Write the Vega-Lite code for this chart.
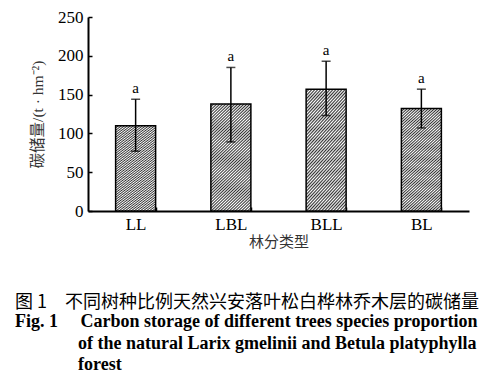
{
  "$schema": "https://vega.github.io/schema/vega-lite/v6.json",
  "width": 381,
  "height": 194,
  "autosize": "none",
  "padding": {"left": 88, "top": 17, "right": 31, "bottom": 169},
  "background": "white",
  "config": {"view": {"stroke": null}, "font": "Liberation Serif"},
  "resolve": {"scale": {"y": "shared"}, "axis": {"y": "independent"}},
  "title": {
    "text": "图 1\u3000不同树种比例天然兴安落叶松白桦林乔木层的碳储量",
    "subtitle": [
      "Fig. 1\u00a0\u00a0\u00a0\u00a0\u00a0Carbon storage of different trees species proportion",
      "\u200b\u00a0\u00a0\u00a0\u00a0\u00a0\u00a0\u00a0\u00a0\u00a0\u00a0\u00a0\u00a0\u00a0\u00a0of the natural Larix gmelinii and Betula platyphylla",
      "\u200b\u00a0\u00a0\u00a0\u00a0\u00a0\u00a0\u00a0\u00a0\u00a0\u00a0\u00a0\u00a0\u00a0\u00a0forest"
    ],
    "orient": "bottom",
    "anchor": "start",
    "frame": "group",
    "dx": -73,
    "offset": 45,
    "font": "Noto Sans CJK SC",
    "fontSize": 18,
    "fontWeight": "normal",
    "color": "black",
    "subtitleFont": "Liberation Serif",
    "subtitleFontSize": 18,
    "subtitleFontWeight": "bold",
    "subtitleColor": "black",
    "subtitleLineHeight": 21.5,
    "subtitlePadding": 1
  },
  "data": {
    "values": [
      {"type": "LL", "mean": 110, "lo": 77, "hi": 144, "sig": "a"},
      {"type": "LBL", "mean": 138, "lo": 89, "hi": 185, "sig": "a"},
      {"type": "BLL", "mean": 157, "lo": 123, "hi": 193, "sig": "a"},
      {"type": "BL", "mean": 132, "lo": 107, "hi": 157, "sig": "a"}
    ]
  },
  "encoding": {
    "x": {
      "field": "type",
      "type": "nominal",
      "sort": null,
      "scale": {"paddingInner": 0.58, "paddingOuter": 0.29},
      "axis": {
        "title": "林分类型",
        "titleFont": "Noto Sans CJK SC",
        "titleFontSize": 15,
        "titleFontWeight": "normal",
        "titleColor": "#333",
        "titlePadding": 2,
        "labelAngle": 0,
        "labelFont": "Liberation Serif",
        "labelFontSize": 17,
        "labelColor": "black",
        "labelPadding": 9,
        "domainColor": "black",
        "domainWidth": 2,
        "tickColor": "black",
        "tickWidth": 1.5,
        "tickSize": -4,
        "tickBand": "extent"
      }
    }
  },
  "layer": [
    {
      "mark": {
        "type": "bar",
        "stroke": "black",
        "strokeWidth": 1.5,
        "fill": {
          "gradient": "linear",
          "x1": 0, "y1": 0, "x2": 0.43, "y2": 1.2,
          "stops": [
            {"offset": 0, "color": "#333"}, {"offset": 0.01, "color": "#fff"},
            {"offset": 0.02, "color": "#333"}, {"offset": 0.03, "color": "#fff"},
            {"offset": 0.04, "color": "#333"}, {"offset": 0.05, "color": "#fff"},
            {"offset": 0.06, "color": "#333"}, {"offset": 0.07, "color": "#fff"},
            {"offset": 0.08, "color": "#333"}, {"offset": 0.09, "color": "#fff"},
            {"offset": 0.1, "color": "#333"}, {"offset": 0.11, "color": "#fff"},
            {"offset": 0.12, "color": "#333"}, {"offset": 0.13, "color": "#fff"},
            {"offset": 0.14, "color": "#333"}, {"offset": 0.15, "color": "#fff"},
            {"offset": 0.16, "color": "#333"}, {"offset": 0.17, "color": "#fff"},
            {"offset": 0.18, "color": "#333"}, {"offset": 0.19, "color": "#fff"},
            {"offset": 0.2, "color": "#333"}, {"offset": 0.21, "color": "#fff"},
            {"offset": 0.22, "color": "#333"}, {"offset": 0.23, "color": "#fff"},
            {"offset": 0.24, "color": "#333"}, {"offset": 0.25, "color": "#fff"},
            {"offset": 0.26, "color": "#333"}, {"offset": 0.27, "color": "#fff"},
            {"offset": 0.28, "color": "#333"}, {"offset": 0.29, "color": "#fff"},
            {"offset": 0.3, "color": "#333"}, {"offset": 0.31, "color": "#fff"},
            {"offset": 0.32, "color": "#333"}, {"offset": 0.33, "color": "#fff"},
            {"offset": 0.34, "color": "#333"}, {"offset": 0.35, "color": "#fff"},
            {"offset": 0.36, "color": "#333"}, {"offset": 0.37, "color": "#fff"},
            {"offset": 0.38, "color": "#333"}, {"offset": 0.39, "color": "#fff"},
            {"offset": 0.4, "color": "#333"}, {"offset": 0.41, "color": "#fff"},
            {"offset": 0.42, "color": "#333"}, {"offset": 0.43, "color": "#fff"},
            {"offset": 0.44, "color": "#333"}, {"offset": 0.45, "color": "#fff"},
            {"offset": 0.46, "color": "#333"}, {"offset": 0.47, "color": "#fff"},
            {"offset": 0.48, "color": "#333"}, {"offset": 0.49, "color": "#fff"},
            {"offset": 0.5, "color": "#333"}, {"offset": 0.51, "color": "#fff"},
            {"offset": 0.52, "color": "#333"}, {"offset": 0.53, "color": "#fff"},
            {"offset": 0.54, "color": "#333"}, {"offset": 0.55, "color": "#fff"},
            {"offset": 0.56, "color": "#333"}, {"offset": 0.57, "color": "#fff"},
            {"offset": 0.58, "color": "#333"}, {"offset": 0.59, "color": "#fff"},
            {"offset": 0.6, "color": "#333"}, {"offset": 0.61, "color": "#fff"},
            {"offset": 0.62, "color": "#333"}, {"offset": 0.63, "color": "#fff"},
            {"offset": 0.64, "color": "#333"}, {"offset": 0.65, "color": "#fff"},
            {"offset": 0.66, "color": "#333"}, {"offset": 0.67, "color": "#fff"},
            {"offset": 0.68, "color": "#333"}, {"offset": 0.69, "color": "#fff"},
            {"offset": 0.7, "color": "#333"}, {"offset": 0.71, "color": "#fff"},
            {"offset": 0.72, "color": "#333"}, {"offset": 0.73, "color": "#fff"},
            {"offset": 0.74, "color": "#333"}, {"offset": 0.75, "color": "#fff"},
            {"offset": 0.76, "color": "#333"}, {"offset": 0.77, "color": "#fff"},
            {"offset": 0.78, "color": "#333"}, {"offset": 0.79, "color": "#fff"},
            {"offset": 0.8, "color": "#333"}, {"offset": 0.81, "color": "#fff"},
            {"offset": 0.82, "color": "#333"}, {"offset": 0.83, "color": "#fff"},
            {"offset": 0.84, "color": "#333"}, {"offset": 0.85, "color": "#fff"},
            {"offset": 0.86, "color": "#333"}, {"offset": 0.87, "color": "#fff"},
            {"offset": 0.88, "color": "#333"}, {"offset": 0.89, "color": "#fff"},
            {"offset": 0.9, "color": "#333"}, {"offset": 0.91, "color": "#fff"},
            {"offset": 0.92, "color": "#333"}, {"offset": 0.93, "color": "#fff"},
            {"offset": 0.94, "color": "#333"}, {"offset": 0.95, "color": "#fff"},
            {"offset": 0.96, "color": "#333"}, {"offset": 0.97, "color": "#fff"},
            {"offset": 0.98, "color": "#333"}, {"offset": 0.99, "color": "#fff"},
            {"offset": 1, "color": "#333"}
          ]
        }
      },
      "encoding": {
        "y": {
          "field": "mean",
          "type": "quantitative",
          "scale": {"domain": [0, 250], "nice": false},
          "axis": {
            "title": "碳储量/(t · hm⁻²)",
            "titleFont": "Liberation Serif, Noto Sans CJK SC",
            "titleFontSize": 15.5,
            "titleFontWeight": "normal",
            "titleColor": "#333",
            "titlePadding": 12,
            "values": [0, 50, 100, 150, 200, 250],
            "labelOverlap": false,
            "grid": false,
            "labelFont": "Liberation Serif",
            "labelFontSize": 17,
            "labelColor": "black",
            "labelPadding": 9,
            "domainColor": "black",
            "domainWidth": 2,
            "tickColor": "black",
            "tickWidth": 1.5,
            "tickSize": -4
          }
        }
      }
    },
    {
      "mark": {"type": "rule", "color": "black", "strokeWidth": 1.5},
      "encoding": {
        "y": {"field": "lo", "type": "quantitative", "axis": null},
        "y2": {"field": "hi"}
      }
    },
    {
      "mark": {"type": "tick", "color": "black", "size": 9, "thickness": 1.5},
      "encoding": {"y": {"field": "hi", "type": "quantitative", "axis": null}}
    },
    {
      "mark": {"type": "tick", "color": "black", "size": 9, "thickness": 1.5},
      "encoding": {"y": {"field": "lo", "type": "quantitative", "axis": null}}
    },
    {
      "mark": {"type": "text", "font": "Liberation Serif", "fontSize": 15, "baseline": "bottom", "dy": -3, "color": "black"},
      "encoding": {
        "y": {"field": "hi", "type": "quantitative", "axis": null},
        "text": {"field": "sig"}
      }
    }
  ]
}
